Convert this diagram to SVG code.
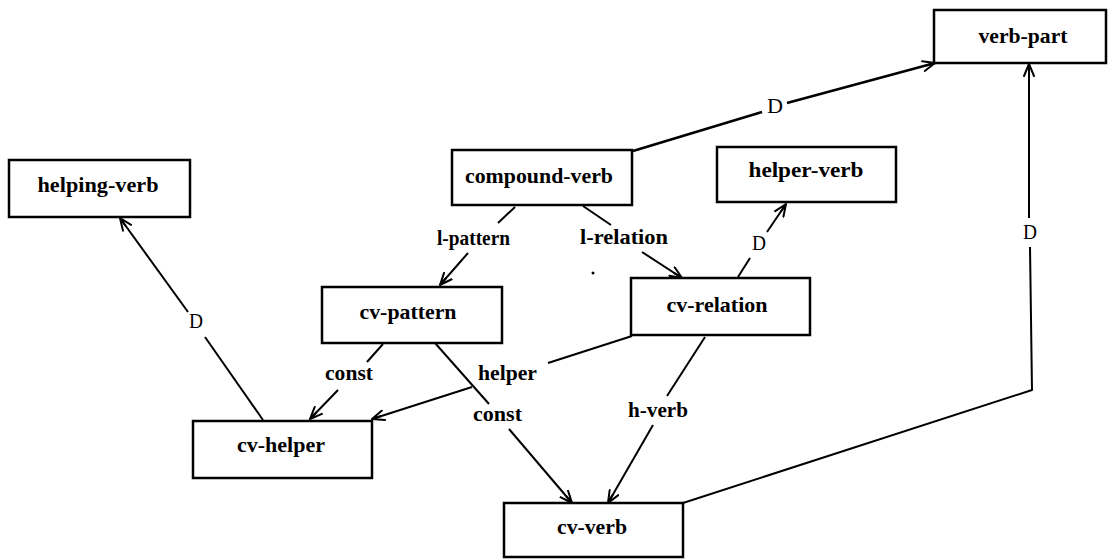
<svg xmlns="http://www.w3.org/2000/svg" width="1108" height="560" viewBox="0 0 1108 560">
  <style>
    .box { fill: #ffffff; stroke: #000000; stroke-width: 2.5; }
    .name { font-family: "Liberation Serif", "Times New Roman", serif; font-size: 22px; font-weight: bold; fill: #000000; text-anchor: middle; }
    .lbl { font-family: "Liberation Serif", "Times New Roman", serif; font-size: 22px; font-weight: bold; fill: #000000; }
    .d { font-family: "Liberation Serif", "Times New Roman", serif; font-size: 22px; font-weight: normal; fill: #000000; }
    .edge { fill: none; stroke: #000000; stroke-width: 2; stroke-linejoin: round; }
    .arrow { marker-end: url(#head); }
  </style>
  <defs>
    <marker id="head" markerWidth="16" markerHeight="12" refX="13" refY="6" orient="auto" markerUnits="userSpaceOnUse">
      <path d="M1,1 L13,6 L1,11 M13,6 L4,6" fill="none" stroke="#000000" stroke-width="2" stroke-linecap="round" stroke-linejoin="round"/>
    </marker>
  </defs>
  <rect width="1108" height="560" fill="#ffffff"/>

  <!-- connectors: each is split around its label -->
  <g id="connectors">
    <!-- compound-verb -> verb-part (D) -->
    <line class="edge" x1="633" y1="151" x2="762" y2="112" style="stroke-width:2.6"/>
    <line class="edge arrow" x1="787" y1="103" x2="935" y2="63" style="stroke-width:2.6"/>
    <text class="d" x="767" y="113" textLength="16" lengthAdjust="spacingAndGlyphs">D</text>

    <!-- compound-verb -> cv-pattern (l-pattern) -->
    <line class="edge" x1="515" y1="207" x2="498" y2="223"/>
    <line class="edge arrow" x1="468" y1="253" x2="440" y2="285"/>
    <text class="lbl" x="437" y="245" textLength="73" lengthAdjust="spacingAndGlyphs">l-pattern</text>

    <!-- compound-verb -> cv-relation (l-relation) -->
    <line class="edge" x1="583" y1="206" x2="611" y2="225"/>
    <line class="edge arrow" x1="642" y1="252" x2="682" y2="278"/>
    <text class="lbl" x="580" y="244" textLength="88" lengthAdjust="spacingAndGlyphs">l-relation</text>

    <!-- cv-relation -> helper-verb (D) -->
    <line class="edge" x1="738" y1="277" x2="750" y2="258"/>
    <line class="edge arrow" x1="767" y1="232" x2="786" y2="204"/>
    <text class="d" x="752" y="250" textLength="14" lengthAdjust="spacingAndGlyphs">D</text>

    <!-- cv-helper -> helping-verb (D) -->
    <line class="edge" x1="263" y1="420" x2="205" y2="337"/>
    <line class="edge arrow" x1="188" y1="312" x2="120" y2="218"/>
    <text class="d" x="189" y="328" textLength="14" lengthAdjust="spacingAndGlyphs">D</text>

    <!-- cv-pattern -> cv-helper (const) -->
    <line class="edge" x1="383" y1="344" x2="367" y2="362"/>
    <line class="edge arrow" x1="338" y1="390" x2="310" y2="419"/>
    <text class="lbl" x="325" y="380" textLength="48" lengthAdjust="spacingAndGlyphs">const</text>

    <!-- cv-pattern -> cv-verb (const) -->
    <line class="edge" x1="435" y1="343" x2="489" y2="404"/>
    <line class="edge arrow" x1="509" y1="429" x2="572" y2="503"/>
    <text class="lbl" x="473" y="421" textLength="49" lengthAdjust="spacingAndGlyphs">const</text>

    <!-- cv-relation -> cv-helper (helper) -->
    <line class="edge" x1="632" y1="336" x2="548" y2="363"/>
    <line class="edge arrow" x1="472" y1="387" x2="372" y2="419"/>
    <text class="lbl" x="478" y="380" textLength="59" lengthAdjust="spacingAndGlyphs">helper</text>

    <!-- cv-relation -> cv-verb (h-verb) -->
    <line class="edge" x1="705" y1="337" x2="667" y2="396"/>
    <line class="edge arrow" x1="653" y1="425" x2="608" y2="503"/>
    <text class="lbl" x="628" y="417" textLength="60" lengthAdjust="spacingAndGlyphs">h-verb</text>

    <!-- cv-verb -> verb-part (D) -->
    <polyline class="edge" points="683,503 1032,390 1030,247"/>
    <line class="edge arrow" x1="1029" y1="218" x2="1029" y2="64"/>
    <text class="d" x="1023" y="239" textLength="14" lengthAdjust="spacingAndGlyphs">D</text>

    <!-- stray speck -->
    <circle cx="593" cy="273" r="1.5" fill="#000000"/>
  </g>

  <!-- nodes -->
  <g id="verb-part">
    <rect class="box" x="934" y="10" width="172" height="53"/>
    <text class="name" x="1023" y="43" textLength="89" lengthAdjust="spacingAndGlyphs">verb-part</text>
  </g>
  <g id="helping-verb">
    <rect class="box" x="9" y="160" width="181" height="57"/>
    <text class="name" x="98" y="192" textLength="121" lengthAdjust="spacingAndGlyphs">helping-verb</text>
  </g>
  <g id="compound-verb">
    <rect class="box" x="452" y="150" width="180" height="55"/>
    <text class="name" x="539" y="183" textLength="148" lengthAdjust="spacingAndGlyphs">compound-verb</text>
  </g>
  <g id="helper-verb">
    <rect class="box" x="717" y="147" width="179" height="55"/>
    <text class="name" x="806" y="177" textLength="115" lengthAdjust="spacingAndGlyphs">helper-verb</text>
  </g>
  <g id="cv-pattern">
    <rect class="box" x="322" y="287" width="180" height="56"/>
    <text class="name" x="408" y="319" textLength="97" lengthAdjust="spacingAndGlyphs">cv-pattern</text>
  </g>
  <g id="cv-relation">
    <rect class="box" x="631" y="278" width="179" height="57"/>
    <text class="name" x="717" y="312" textLength="101" lengthAdjust="spacingAndGlyphs">cv-relation</text>
  </g>
  <g id="cv-helper">
    <rect class="box" x="193" y="421" width="179" height="57"/>
    <text class="name" x="281" y="452" textLength="88" lengthAdjust="spacingAndGlyphs">cv-helper</text>
  </g>
  <g id="cv-verb">
    <rect class="box" x="504" y="503" width="179" height="54"/>
    <text class="name" x="592" y="534" textLength="70" lengthAdjust="spacingAndGlyphs">cv-verb</text>
  </g>
</svg>
